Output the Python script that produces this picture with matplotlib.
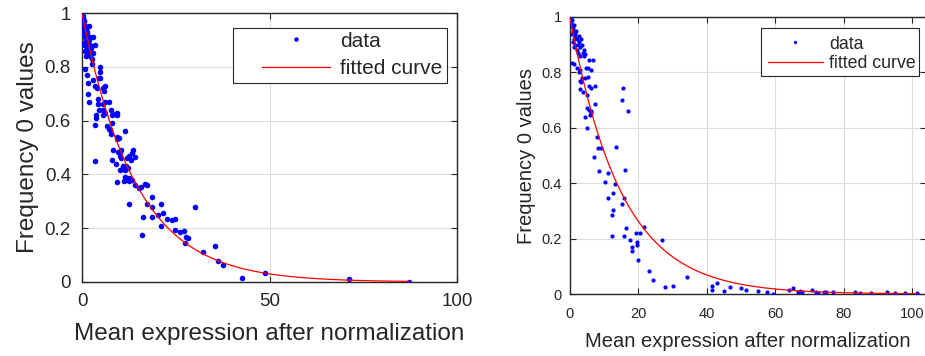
import numpy as np
import matplotlib
matplotlib.use("Agg")
import matplotlib.pyplot as plt
from matplotlib.lines import Line2D
from matplotlib.patches import Rectangle

plt.rcParams['font.family'] = ['Liberation Sans', 'DejaVu Sans']

# ---------------- data: left panel ----------------
left_x = [0.1, 0.2, 0.3, 0.2, 0.4, 0.5, 0.6, 0.3, 0.7, 0.8, 1.0, 0.5, 0.9, 1.2, 1.4, 1.1, 0.6, 1.5,
          1.8, 2.0, 1.3, 0.9, 1.7, 2.2, 2.5, 1.0, 1.6, 2.8, 3.0, 2.1, 0.4, 0.2, 1.9, 3.4, 2.6,
          0.8, 2.7, 4.8, 4.6, 4.9, 1.3, 1.6, 1.6, 1.8, 3.0, 3.5, 4.0, 4.9, 5.5, 6.0, 5.8, 4.2, 4.3,
          4.4, 5.7, 6.0, 5.5, 6.0, 7.3, 7.6, 3.8, 3.6, 5.5, 3.5, 8.0, 8.7, 9.2, 9.4, 6.7, 7.1, 7.4,
          7.7, 8.0, 9.4, 9.8, 9.2, 11.5, 8.2, 9.7, 10.0, 10.3, 13.3, 3.5,
          8.0, 9.0, 10.0, 10.5, 12.0, 12.5, 13.5, 14.0, 13.0, 11.0, 11.7, 12.2, 9.3, 10.0, 10.7,
          11.5, 11.5, 12.5, 13.3, 11.2, 12.6, 12.5, 14.0, 15.2, 15.6, 16.8, 17.3, 18.6, 17.3, 18.7,
          21.0, 16.2, 18.6, 16.0, 20.3, 21.5, 21.0, 22.7, 24.1, 24.8, 24.8, 26.1, 27.2, 27.8, 28.2,
          27.5, 30.0, 32.2, 35.5, 36.3, 37.6, 42.7, 48.8, 71.2, 87.2]
left_y = [0.99, 0.98, 0.99, 0.96, 0.97, 0.95, 0.97, 0.94, 0.93, 0.95, 0.94, 0.92, 0.91, 0.92, 0.93, 0.90, 0.89, 0.89,
          0.90, 0.91, 0.87, 0.86, 0.86, 0.88, 0.87, 0.84, 0.85, 0.85, 0.91, 0.84, 0.88, 0.93, 0.95, 0.88, 0.83,
          0.79, 0.81, 0.78, 0.76, 0.80, 0.77, 0.74, 0.70, 0.67, 0.75, 0.73, 0.72, 0.76, 0.72, 0.73, 0.71, 0.68, 0.66,
          0.64, 0.66, 0.67, 0.64, 0.63, 0.67, 0.64, 0.62, 0.61, 0.62, 0.585, 0.62, 0.625, 0.62, 0.63, 0.58, 0.57, 0.565,
          0.55, 0.59, 0.54, 0.535, 0.53, 0.56, 0.49, 0.485, 0.47, 0.46, 0.48, 0.45,
          0.455, 0.44, 0.48, 0.49, 0.46, 0.47, 0.49, 0.465, 0.455, 0.43, 0.43, 0.425, 0.37, 0.415, 0.42,
          0.415, 0.39, 0.385, 0.38, 0.374, 0.374, 0.29, 0.36, 0.35, 0.355, 0.363, 0.36, 0.316, 0.29, 0.28,
          0.29, 0.24, 0.24, 0.175, 0.25, 0.255, 0.21, 0.235, 0.23, 0.235, 0.195, 0.185, 0.19, 0.167, 0.165,
          0.144, 0.28, 0.11, 0.134, 0.078, 0.063, 0.015, 0.033, 0.01, 0.0]
left_rate = 0.070          # fitted decay rate, left panel

# ---------------- data: right panel ----------------
right_x = [0.1, 0.2, 0.3, 0.5, 0.6, 0.8, 1.0, 0.7, 1.2, 1.4, 1.1, 1.6, 1.8, 2.0, 1.5, 2.2, 2.5, 2.7, 1.9,
           2.4, 3.0, 3.3, 1.2, 0.9, 2.8, 3.6, 3.9, 4.0, 4.2, 4.4, 0.6,
           1.2, 2.0, 2.6, 3.0, 5.6, 6.7, 4.7, 5.2, 6.1, 3.5, 4.3, 5.2, 5.6, 6.0, 7.3, 2.9, 3.3, 2.8, 3.8,
           4.9, 15.5, 15.2, 17.0, 5.0, 5.5, 6.0, 5.8, 6.2, 4.4, 7.3, 5.0, 7.9, 8.2, 9.0, 7.0, 13.5, 8.5,
           16.1, 11.1, 10.2, 13.2, 12.6, 11.1, 15.8,
           15.3, 12.6, 12.3, 12.3, 15.8, 16.3, 17.5, 18.1, 18.2, 19.3, 19.5, 19.5, 20.5, 21.7, 19.8,
           26.8, 23.1, 24.3, 27.8, 30.0, 34.1, 41.5, 42.9, 41.6, 45.0, 46.8, 50.0, 51.3, 55.0, 57.6,
           59.4, 64.0, 65.0, 66.7, 67.3, 67.8, 70.8, 72.0, 72.5, 74.2, 74.7, 76.7, 83.3, 84.8, 87.9,
           92.7, 94.8, 97.9, 101.3]
right_y = [0.99, 1.0, 0.98, 0.97, 0.99, 0.96, 0.95, 0.94, 0.97, 0.94, 0.92, 0.93, 0.95, 0.92, 0.90, 0.90, 0.93, 0.91, 0.88,
           0.87, 0.89, 0.92, 0.89, 0.91, 0.86, 0.90, 0.87, 0.88, 0.86, 0.865, 0.835,
           0.83, 0.815, 0.80, 0.81, 0.845, 0.845, 0.815, 0.815, 0.81, 0.78, 0.78, 0.785, 0.75, 0.745, 0.75, 0.77, 0.765, 0.74, 0.73,
           0.72, 0.743, 0.70, 0.66, 0.67, 0.665, 0.66, 0.648, 0.655, 0.638, 0.685, 0.60, 0.567, 0.527, 0.527, 0.495, 0.53, 0.445,
           0.447, 0.437, 0.405, 0.397, 0.364, 0.347, 0.347,
           0.325, 0.303, 0.285, 0.21, 0.21, 0.24, 0.195, 0.17, 0.155, 0.22, 0.187, 0.178, 0.22, 0.243, 0.123,
           0.194, 0.083, 0.05, 0.027, 0.03, 0.06, 0.03, 0.038, 0.016, 0.01, 0.025, 0.02, 0.014, 0.011, 0.008,
           0.0, 0.013, 0.02, 0.006, 0.01, 0.006, 0.013, 0.008, 0.004, 0.006, 0.007, 0.007, 0.007, 0.005, 0.005,
           0.007, 0.002, 0.002, 0.002]
right_rate = 0.067         # fitted decay rate, right panel

xlabel = "Mean expression after normalization"
ylabel = "Frequency 0 values"
legend_labels = ["data", "fitted curve"]

W, H = 925, 356
fig = plt.figure(figsize=(W / 100, H / 100), dpi=100)

# axes boxes in pixels: (left, top, right, bottom)
boxL = (82, 13, 457, 282)
boxR = (570, 17, 926, 294)


def add_axes(box):
    l, t, r, b = box
    return fig.add_axes([l / W, 1 - b / H, (r - l) / W, (b - t) / H])


axL = add_axes(boxL)
axR = add_axes(boxR)

txt = '#262626'


def px2ax(box, px, py):
    l, t, r, b = box
    return (px - l) / (r - l), (b - py) / (b - t)


def style(ax, tick_fs, xpad, ypad):
    for s in ax.spines.values():
        s.set_color(txt)
        s.set_linewidth(1.0)
    ax.tick_params(direction='in', top=True, right=True, length=4, width=0.8,
                   colors=txt, labelsize=tick_fs)
    ax.tick_params(axis='x', pad=xpad)
    ax.tick_params(axis='y', pad=ypad)
    ax.grid(True, color='#dcdcdc', linewidth=0.8)
    ax.set_axisbelow(True)


def panel(ax, box, xs, ys, rate, xmax, xticks, ms, tick_fs, lab_fs, leg_fs,
          xpad, ypad, xlabpad, leg_spacing, frame_px, handle_start_px, rows_mid_px,
          handle_len, text_pad):
    style(ax, tick_fs, xpad, ypad)
    xc = np.linspace(0, max(xs), 400)
    ax.plot(xs, ys, 'o', color='#0000ff', markersize=ms, markeredgewidth=0, zorder=3)
    ax.plot(xc, np.exp(-rate * xc), color='#ff0000', linewidth=0.9, zorder=4)
    ax.set_xlim(0, xmax)
    ax.set_ylim(0, 1)
    ax.set_xticks(xticks)
    ax.set_yticks([0, 0.2, 0.4, 0.6, 0.8, 1])
    ax.set_yticklabels(['0', '0.2', '0.4', '0.6', '0.8', '1'])
    ax.set_xlabel(xlabel, fontsize=lab_fs, color=txt, labelpad=xlabpad)
    ax.set_ylabel(ylabel, fontsize=lab_fs, color=txt)

    # legend frame drawn as a rectangle (MATLAB-style paddings)
    fl, ft, fr, fb = frame_px
    x0, y0 = px2ax(box, fl, fb)
    x1, y1 = px2ax(box, fr, ft)
    ax.add_patch(Rectangle((x0, y0), x1 - x0, y1 - y0, transform=ax.transAxes,
                           facecolor='white', edgecolor=txt, linewidth=0.8,
                           zorder=6, clip_on=False))
    handles = [Line2D([], [], marker='o', linestyle='none', color='#0000ff',
                      markersize=ms * 0.8, markeredgewidth=0),
               Line2D([], [], color='#ff0000', linewidth=0.9)]
    anchor = px2ax(box, handle_start_px, rows_mid_px)
    leg = ax.legend(handles, legend_labels, loc='center left', bbox_to_anchor=anchor,
                    fontsize=leg_fs, frameon=False, handlelength=handle_len,
                    handletextpad=text_pad, borderpad=0, labelspacing=leg_spacing,
                    borderaxespad=0)
    leg.set_zorder(7)
    for t in leg.get_texts():
        t.set_color(txt)


panel(axL, boxL, left_x, left_y, left_rate, 100, [0, 50, 100], 4.0, 13.5, 17.5, 15,
      xpad=8, ypad=8, xlabpad=9, leg_spacing=0.43,
      frame_px=(233, 28, 447, 83), handle_start_px=262, rows_mid_px=55,
      handle_len=68 / 20.8, text_pad=10 / 20.8)
panel(axR, boxR, right_x, right_y, right_rate, 104, [0, 20, 40, 60, 80, 100], 3.0, 10.5, 14.5, 12.8,
      xpad=9, ypad=6, xlabpad=8, leg_spacing=0.15,
      frame_px=(761, 28, 919, 76), handle_start_px=768, rows_mid_px=54,
      handle_len=55 / 17.8, text_pad=6 / 17.8)

fig.savefig('out.png', dpi=100)
